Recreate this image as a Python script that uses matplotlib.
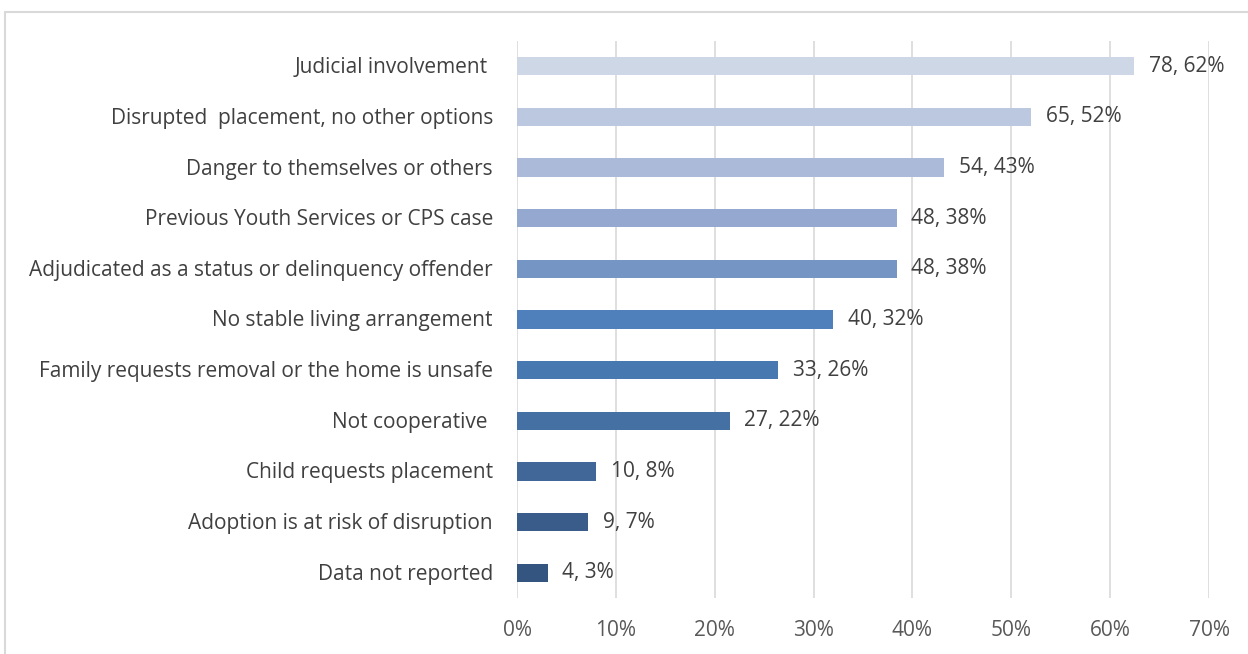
import matplotlib.pyplot as plt
from matplotlib.patches import Rectangle
from matplotlib.transforms import ScaledTranslation

# Reasons for placement, listed top to bottom
reasons = ["Judicial involvement ",
           "Disrupted  placement, no other options",
           "Danger to themselves or others",
           "Previous Youth Services or CPS case",
           "Adjudicated as a status or delinquency offender",
           "No stable living arrangement",
           "Family requests removal or the home is unsafe",
           "Not cooperative ",
           "Child requests placement",
           "Adoption is at risk of disruption",
           "Data not reported"]
counts = [78, 65, 54, 48, 48, 40, 33, 27, 10, 9, 4]
pct = [0.624, 0.520, 0.432, 0.384, 0.384, 0.320, 0.264, 0.215, 0.080, 0.072, 0.031]
pct_labels = ["62%", "52%", "43%", "38%", "38%", "32%", "26%", "22%", "8%", "7%", "3%"]

colors = ["#CDD7E6", "#BBC8E0", "#AABAD8", "#95A9D0", "#7596C5", "#5080BC",
          "#4878B0", "#4570A4", "#416798", "#3A5C8A", "#345580"]

plt.rcParams['font.family'] = ['Open Sans', 'DejaVu Sans']

fig = plt.figure(figsize=(12.48, 6.54), dpi=100)
ax = fig.add_axes([517 / 1248, 56 / 654, (1209 - 517) / 1248, (598 - 41) / 654])

y = list(range(len(reasons)))
ax.barh(y, pct, height=0.36, color=colors, zorder=3)

for i in y:
    ax.text(pct[i] + 0.015, i, f"{counts[i]}, {pct_labels[i]}", va="center", ha="left",
            fontsize=15, color="#404040")

ax.set_ylim(len(reasons) - 0.5, -0.5)
ax.set_xlim(0, 0.7)
ax.set_yticks(y)
ax.set_yticklabels([])

# category labels drawn by hand so they sit centred on the bars
lab_tr = ax.get_yaxis_transform() + ScaledTranslation(-24 / 100, -1.5 / 100, fig.dpi_scale_trans)
for i in y:
    ax.text(0, i, reasons[i], transform=lab_tr, ha="right", va="center",
            fontsize=15, color="#404040")

ax.set_xticks([i / 10 for i in range(8)])
ax.set_xticklabels([f"{i * 10}%" for i in range(8)], fontsize=15, color="#595959")
ax.tick_params(axis="y", length=0)
ax.tick_params(axis="x", length=0, pad=16)
ax.xaxis.grid(True, color="#D9D9D9", linewidth=1.2, zorder=0)
for s in ax.spines.values():
    s.set_visible(False)

# chart frame, only top and left edges visible in the picture
fig.patches.append(Rectangle((5 / 1248, -0.1), 1.2, (654 - 12) / 654 + 0.1,
                             transform=fig.transFigure, fill=False,
                             edgecolor="#D9D9D9", linewidth=1.5))

fig.savefig("out.png", dpi=100)
